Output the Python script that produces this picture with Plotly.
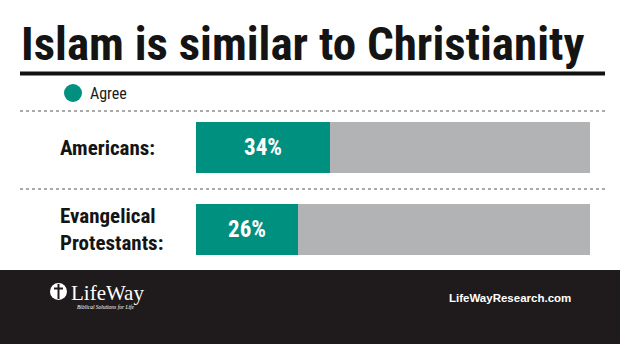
import plotly.graph_objects as go

# Survey results: share who agree that Islam is similar to Christianity
groups = ["Americans:", "Evangelical<br>Protestants:"]
agree = [34, 26]
total = [100, 100]
remainder = [t - a for t, a in zip(total, agree)]
legend_label = "Agree"

W, H = 620, 344
TEAL = "#00907f"
GREY = "#b2b3b5"
COND = "Roboto Condensed, Open Sans Condensed, sans-serif"


def px(x):
    return x / W


def py(y):
    return 1 - y / H


ypos = [0, 1]
# pixel rows of bar centres -> axis range that places them there
c0, c1 = 147.5, 229.0
unit = c1 - c0
yrange = [(H - c0) / unit, -c0 / unit]

fig = go.Figure()

fig.add_trace(go.Bar(
    y=ypos, x=agree, orientation="h", marker=dict(color=TEAL, line=dict(width=0)),
    width=51 / unit, text=[f"{v}%" for v in agree], texttemplate="%{text}",
    textposition="inside", insidetextanchor="middle",
    textfont=dict(family=COND, size=23, color="white", weight="bold"),
    name=legend_label, showlegend=False, hoverinfo="skip",
))
fig.add_trace(go.Bar(
    y=ypos, x=remainder, orientation="h", marker=dict(color=GREY, line=dict(width=0)),
    width=51 / unit, showlegend=False, hoverinfo="skip",
))

shapes = [
    # footer band
    dict(type="rect", xref="paper", yref="paper", x0=0, x1=1, y0=0, y1=py(270),
         fillcolor="#1f1b1c", line=dict(width=0), layer="below"),
    # rule under title
    dict(type="line", xref="paper", yref="paper", x0=px(20), x1=px(605), y0=py(73.5), y1=py(73.5),
         line=dict(color="#111111", width=4)),
    # dotted separators
    dict(type="line", xref="paper", yref="paper", x0=px(20), x1=px(605), y0=py(111), y1=py(111),
         line=dict(color="#555555", width=1, dash="dot")),
    dict(type="line", xref="paper", yref="paper", x0=px(20), x1=px(605), y0=py(189), y1=py(189),
         line=dict(color="#555555", width=1, dash="dot")),
    # legend swatch
    dict(type="circle", xref="paper", yref="paper", x0=px(64), x1=px(82), y0=py(102), y1=py(84),
         fillcolor=TEAL, line=dict(width=0)),
    # logo mark
    dict(type="circle", xref="paper", yref="paper", x0=px(50), x1=px(67), y0=py(300), y1=py(283),
         fillcolor="white", line=dict(width=0)),
    dict(type="line", xref="paper", yref="paper", x0=px(58.5), x1=px(58.5), y0=py(299), y1=py(284),
         line=dict(color="#1f1b1c", width=2)),
    dict(type="line", xref="paper", yref="paper", x0=px(54), x1=px(63), y0=py(288.5), y1=py(288.5),
         line=dict(color="#1f1b1c", width=2)),
]

annotations = [
    dict(text="Islam is similar to Christianity", xref="paper", yref="paper",
         x=px(19), y=py(43), xanchor="left", yanchor="middle", showarrow=False,
         font=dict(family=COND, size=47, color="#141414", weight="bold")),
    dict(text=legend_label, xref="paper", yref="paper", x=px(88), y=py(93),
         xanchor="left", yanchor="middle", showarrow=False,
         font=dict(family=COND, size=16, color="#1a1a1a")),
    dict(text="LifeWay", xref="paper", yref="paper", x=px(69), y=py(293),
         xanchor="left", yanchor="middle", showarrow=False,
         font=dict(family="Liberation Serif, serif", size=21, color="white")),
    dict(text="<i>Biblical Solutions for Life</i>", xref="paper", yref="paper", x=px(75), y=py(307),
         xanchor="left", yanchor="middle", showarrow=False,
         font=dict(family="Liberation Serif, serif", size=5.5, color="white")),
    dict(text="LifeWayResearch.com", xref="paper", yref="paper", x=px(573), y=py(298),
         xanchor="right", yanchor="middle", showarrow=False,
         font=dict(family="Liberation Sans, Arial, sans-serif", size=11.5, color="white", weight="bold")),
]
for g, y in zip(groups, ypos):
    annotations.append(dict(
        text=g, xref="paper", yref="y", x=px(58), y=y, xanchor="left", yanchor="middle",
        align="left", showarrow=False,
        font=dict(family=COND, size=21, color="#141414", weight="bold"),
    ))

fig.update_layout(
    width=W, height=H, margin=dict(l=0, r=0, t=0, b=0),
    paper_bgcolor="white", plot_bgcolor="rgba(0,0,0,0)",
    barmode="stack", bargap=0,
    xaxis=dict(domain=[px(196), px(590)], range=[0, 100], visible=False, fixedrange=True),
    yaxis=dict(domain=[0, 1], range=yrange, visible=False, fixedrange=True),
    shapes=shapes, annotations=annotations,
    showlegend=False,
)

fig.write_html("out.html")
